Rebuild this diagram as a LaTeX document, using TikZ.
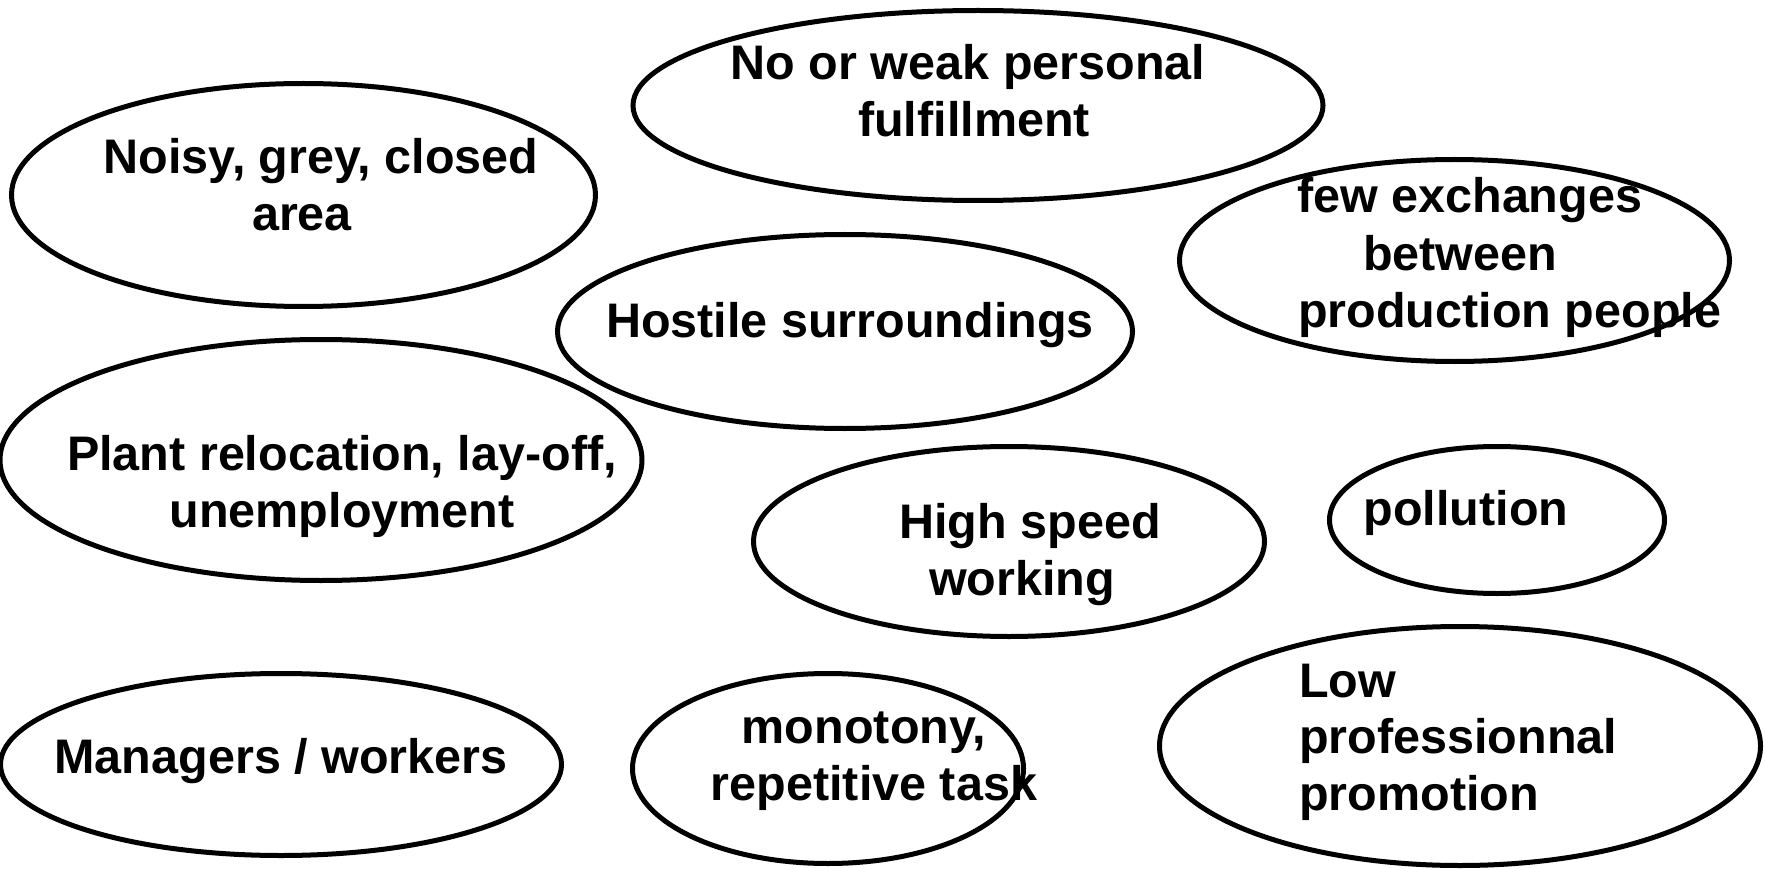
\documentclass[tikz,border=0pt]{standalone}
\usepackage{fontspec}
\setmainfont{Liberation Sans}
\usetikzlibrary{shapes.geometric}
\begin{document}
\begin{tikzpicture}[x=1pt,y=-1pt,
  blob/.style={ellipse, draw=black, line width=5pt, inner sep=0pt},
  txt/.style={anchor=base, inner sep=0pt, font=\fontsize{48.5}{57}\selectfont\bfseries},
  txl/.style={txt, anchor=base west}]
\useasboundingbox (0,0) rectangle (1765,869);
% ellipses
\node[blob, minimum width=690pt, minimum height=190pt] (e1) at (978,105.5) {};
\node[blob, minimum width=584pt, minimum height=223pt] (e2) at (303.5,195) {};
\node[blob, minimum width=550pt, minimum height=202pt] (e3) at (1454.5,260.5) {};
\node[blob, minimum width=575pt, minimum height=194pt] (e4) at (845,331.5) {};
\node[blob, minimum width=642pt, minimum height=241pt] (e5) at (321,460) {};
\node[blob, minimum width=511pt, minimum height=190pt] (e6) at (1009,541.5) {};
\node[blob, minimum width=335pt, minimum height=147pt] (e7) at (1497,520) {};
\node[blob, minimum width=561pt, minimum height=182pt] (e8) at (281,764.5) {};
\node[blob, minimum width=391pt, minimum height=190pt] (e9) at (828,768.5) {};
\node[blob, minimum width=601pt, minimum height=239pt] (e10) at (1460,746) {};
% texts
\node[txt] (t1a) at (968,80) {No or weak personal};
\node[txt] (t1b) at (974,137) {fulfillment};
\node[txt] (t2a) at (321,174) {Noisy, grey, closed};
\node[txt] (t2b) at (302,231) {area};
\node[txl] (t3a) at (1297,213) {few exchanges};
\node[txl] (t3b) at (1363,270) {between};
\node[txl] (t3c) at (1298,327) {production people};
\node[txt] (t4) at (850,337) {Hostile surroundings};
\node[txt] (t5a) at (342,470) {Plant relocation, lay-off,};
\node[txt] (t5b) at (342,527) {unemployment};
\node[txt] (t6a) at (1030,538) {High speed};
\node[txt] (t6b) at (1022,595) {working};
\node[txt] (t7) at (1466,525) {pollution};
\node[txt] (t8) at (281,773) {Managers / workers};
\node[txt] (t9a) at (864,743) {monotony,};
\node[txt] (t9b) at (874,800) {repetitive task};
\node[txl] (t10a) at (1299,697) {Low};
\node[txl] (t10b) at (1299,753) {professionnal};
\node[txl] (t10c) at (1299,810) {promotion};
\end{tikzpicture}
\end{document}
